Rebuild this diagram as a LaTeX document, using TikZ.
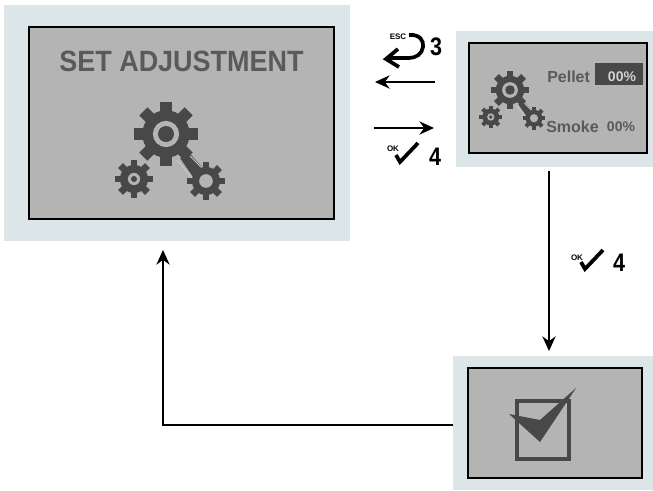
\documentclass[tikz,border=0pt]{standalone}
\usepackage{fontspec}
\setmainfont{Liberation Sans}
\newfontfamily\numfont[FakeStretch=0.85]{Liberation Sans}
\newfontfamily\titlefont[FakeStretch=0.92]{Liberation Sans}
\usetikzlibrary{arrows.meta, positioning}

\definecolor{panelblue}{HTML}{DCE5E7}
\definecolor{screengrey}{HTML}{B4B4B4}
\definecolor{icondark}{HTML}{484848}
\definecolor{labelgrey}{HTML}{5A5A5A}

\tikzset{
    panel/.style={fill=panelblue, inner sep=0, outer sep=0},
    screen/.style={fill=screengrey, draw=black, line width=1pt, inner sep=0},
    flowline/.style={line width=1.1pt, -{Stealth[length=11pt, width=10pt]}},
    shorttick/.style={line width=2.8pt, line join=miter},
    keynum/.style={font=\numfont\bfseries\fontsize{19}{19}\selectfont},
    keytag/.style={font=\bfseries\fontsize{6}{6}\selectfont, inner sep=0},
    readout/.style={font=\bfseries\fontsize{12}{12}\selectfont, text=labelgrey, inner sep=0},
    pics/cog/.style 2 args={code={
        \fill[icondark] (0,0) circle (0.74);
        \foreach \a in {0,45,...,315}
            \fill[icondark, rotate=\a] (-0.18,0.6) rectangle (0.18,1);
        \fill[screengrey] (0,0) circle (#1);
        \fill[icondark] (0,0) circle (#2);
    }},
    pics/cogset/.style={code={
        \begin{scope}[scale=#1]
        \fill[icondark] (14,24) -- (24,20) -- (37,34) -- (27,43) -- cycle;
        \draw[screengrey!70!white, line width=0.6pt] (11,26) -- (26,44);
        \draw[screengrey!70!white, line width=0.6pt] (24,22) -- (36,34);
        \pic at (0,0) [scale=32*#1] {cog={0.41}{0.25}};
        \pic at (-32,45) [scale=19*#1] {cog={0.32}{0.16}};
        \pic at (40,47) [scale=19*#1] {cog={0.36}{0}};
        \end{scope}
    }},
    pics/okmark/.style={code={
        \draw[shorttick] (0,0) -- (4,7) -- (22,-12);
    }}
}

\begin{document}
\begin{tikzpicture}[x=0.75pt, y=-0.75pt]
    \useasboundingbox (0,0) rectangle (653,490);

    % panels
    \node[panel, minimum width=259.5pt, minimum height=177pt] (adjustpanel) at (177,123) {};
    \node[panel, minimum width=147.75pt, minimum height=102pt] (valuepanel) at (554.5,99) {};
    \node[panel, minimum width=150pt, minimum height=100.5pt] (donepanel) at (553,423) {};

    % screens
    \node[screen, line width=1.5pt, minimum width=228.75pt, minimum height=144pt] (adjustscreen) at (181.5,123) {};
    \node[screen, minimum width=133.5pt, minimum height=82.5pt] (valuescreen) at (558,98) {};
    \node[screen, minimum width=130.5pt, minimum height=82.5pt] (donescreen) at (555,423) {};

    % first screen
    \node[font=\titlefont\bfseries\fontsize{22}{22}\selectfont, text=labelgrey, inner sep=0] (adjusttitle) at (181.5,61) {SET ADJUSTMENT};
    \pic at (166,134) {cogset=1};

    % second screen
    \pic at (510,90) {cogset=0.6};
    \node[readout, anchor=west] (pelletlabel) at (547,77) {Pellet};
    \node[fill=icondark, minimum width=36pt, minimum height=16.5pt, inner sep=0] (pelletbox) at (619,74) {};
    \node[readout, font=\bfseries\fontsize{10.5}{10.5}\selectfont, text=screengrey!60!white] (pelletvalue) at (622,77) {00\%};
    \node[readout, anchor=west] (smokelabel) at (546,127) {Smoke};
    \node[readout, font=\bfseries\fontsize{10.5}{10.5}\selectfont] (smokevalue) at (621,127) {00\%};

    % third screen
    \draw[icondark, line width=3.4pt] (517,401) rectangle (569,459);
    \fill[icondark] (509,414) -- (540,420) -- (576,388) -- (540,442) -- cycle;

    % key hints
    \node[keytag] (esctag) at (398,37) {ESC};
    \draw[line width=2.8pt] (409,35) .. controls (420,34) and (424,41) .. (423,47)
                            .. controls (422,54) and (416,58) .. (409,58) -- (389,58);
    \draw[line width=2.8pt] (398,49) -- (386,59) -- (399,67);
    \node[keynum] (escnum) at (436,47) {3};
    \node[keytag] (oktagtop) at (393,149) {OK};
    \pic at (396,155) {okmark};
    \node[keynum] (oknumtop) at (435,157) {4};
    \node[keytag] (oktagside) at (577,258) {OK};
    \pic at (581,262) {okmark};
    \node[keynum] (oknumside) at (619,263) {4};

    % connectors
    \coordinate (backstart) at (435,82);
    \coordinate (backend) at (375,82);
    \coordinate (nextstart) at (374,128);
    \coordinate (nextend) at (434,128);
    \coordinate (downstart) at (549,171);
    \coordinate (downend) at (549,351);
    \coordinate (loopstart) at (453,425);
    \coordinate (loopend) at (163,250);
    \draw[flowline] (backstart) -- (backend);
    \draw[flowline] (nextstart) -- (nextend);
    \draw[flowline] (downstart) -- (downend);
    \draw[flowline] (loopstart) -| (loopend);
\end{tikzpicture}
\end{document}
